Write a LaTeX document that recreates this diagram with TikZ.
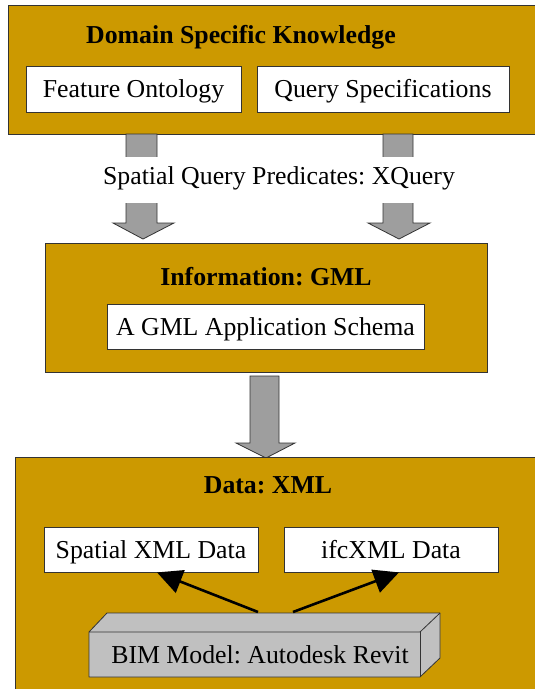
\documentclass[tikz,border=0pt]{standalone}
\usepackage{fontspec}
\setmainfont{Liberation Serif}
\usetikzlibrary{arrows.meta,positioning}
\definecolor{gold}{HTML}{CC9900}
\definecolor{arrowgrey}{HTML}{9E9E9E}
\definecolor{bimgrey}{HTML}{C0C0C0}
\definecolor{edge}{HTML}{333333}
\tikzset{
  txt/.style={font=\fontsize{25.8}{28}\selectfont,text height=17pt,text depth=0pt},
  layer/.style={fill=gold,draw=edge,line width=0.9pt},
  title/.style={txt,font=\fontsize{25.8}{28}\selectfont\bfseries,inner sep=0pt},
  wbox/.style={txt,fill=white,draw=edge,line width=0.8pt,inner sep=0pt},
  blockarrow/.style={fill=arrowgrey,draw=edge,line width=0.8pt,line join=miter},
  thinarrow/.style={-{Triangle[length=25pt,width=24pt]},line width=2.6pt,black},
}
\begin{document}
\frenchspacing
\begin{tikzpicture}[x=1pt,y=-1pt]
\useasboundingbox (0,0) rectangle (535,689);
\clip (0,0) rectangle (535,689);
% ---------- top layer
\draw[layer] (8,5.5) rectangle (545,134);
\node[title] (t1) at (241,34.5) {Domain Specific Knowledge};
\node[wbox,minimum width=215pt,minimum height=46pt] (fo) at (133.5,89) {Feature Ontology};
\node[wbox,minimum width=252pt,minimum height=46pt] (qs) at (383,89) {Query Specifications};
% ---------- block arrows from top to middle
\draw[blockarrow] (126,134) -- (157,134) -- (157,223) -- (174,223) -- (143,239) -- (113,223) -- (126,223) -- cycle;
\draw[blockarrow] (383,134) -- (413,134) -- (413,223) -- (430,223) -- (399,239) -- (368,223) -- (383,223) -- cycle;
\fill[white] (96,157) rectangle (464,203);
\node[txt,inner sep=0pt] (sq) at (279,175.5) {Spatial Query Predicates: XQuery};
% ---------- middle layer
\draw[layer] (45,243) rectangle (487,372);
\node[title] (t2) at (266,276.5) {Information: GML};
\node[wbox,minimum width=317pt,minimum height=45pt] (gml) at (265.5,326.5) {A GML Application Schema};
% ---------- block arrow middle to bottom
\draw[blockarrow] (250,376) -- (279,376) -- (279,443) -- (295,443) -- (266,458) -- (236,443) -- (250,443) -- cycle;
% ---------- bottom layer
\draw[layer] (15,457) rectangle (545,700);
\node[title] (t3) at (268,484.5) {Data: XML};
\node[wbox,minimum width=214pt,minimum height=45pt] (sxd) at (151,549.5) {Spatial XML Data};
\node[wbox,minimum width=214pt,minimum height=45pt] (ifc) at (391,549.5) {ifcXML Data};
% BIM box (3D)
\draw[fill=bimgrey,draw=edge,line width=0.8pt,line join=round] (89,632) -- (107,613) -- (440,613) -- (440,658) -- (420,677) -- (89,677) -- cycle;
\draw[draw=edge,line width=0.8pt] (89,632) -- (420,632) -- (440,613);
\draw[draw=edge,line width=0.8pt] (420,632) -- (420,677);
\node[txt,inner sep=0pt] (bim) at (260,654.5) {BIM Model: Autodesk Revit};
\coordinate (b1) at (258,612);
\coordinate (b2) at (293,612);
\draw[thinarrow] (b1) -- (sxd.south -| 157,0);
\draw[thinarrow] (b2) -- (ifc.south -| 399,0);
\end{tikzpicture}
\end{document}
